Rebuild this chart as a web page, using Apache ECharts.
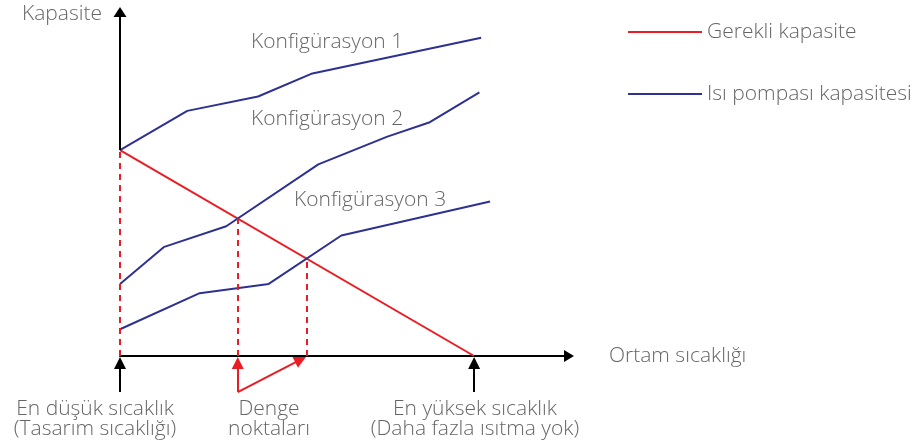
<!DOCTYPE html>
<html>
<head>
<meta charset="UTF-8">
<title>Kapasite</title>
<script type="text/javascript" src="https://cdn.jsdelivr.net/npm/echarts@6/dist/echarts.min.js"></script>
<style>
	body { margin: 0; background: #fff; }
</style>
</head>
<body>
	<div id="div" style="width:920px;height:447px"></div>

	<script type="text/javascript">
		// values (x = ortam sicakligi, y = kapasite, arbitrary units)
		var legendNames = [ 'Gerekli kapasite', 'Isı pompası kapasitesi' ];
		var configNames = [ 'Konfigürasyon 1', 'Konfigürasyon 2', 'Konfigürasyon 3' ];
		var required = [ [ 0, 100 ], [ 100, 0 ] ];
		var config1 = [ [ 0, 100 ], [ 19, 119 ], [ 39, 126 ], [ 54, 137 ], [ 102, 154.5 ] ];
		var config2 = [ [ 0, 35 ], [ 12.5, 53 ], [ 30, 63 ], [ 56, 93 ], [ 75.5, 106.5 ], [ 87.5, 113.5 ], [ 101.5, 128 ] ];
		var config3 = [ [ 0, 13 ], [ 22.5, 30.5 ], [ 42, 35 ], [ 62.5, 58.5 ], [ 104.5, 75 ] ];
		var designPoint = [ 0, 100 ];
		var balancePoints = [ [ 33.25, 66.75 ], [ 52.7, 47.3 ] ];
		var maxTempX = 100;
		var arrowTail = -17.5, arrowTip = -3.4;

		var red = '#ec1c24', blue = '#2e3192', txt = '#666';
		var font = 'Open Sans';
		var fs = 21;

		var mychart = echarts.init(document.getElementById('div'));

		function seg(a, b) {
			return [ { coord : a }, { coord : b } ];
		}

		var dashes = [ seg([ designPoint[0], 0 ], designPoint) ];
		balancePoints.forEach(function(p) {
			dashes.push(seg([ p[0], 0 ], p));
		});

		var hidden = { show : false };
		var option = {
			animation : false,
			textStyle : { fontFamily : font },
			grid : { left : 120, right : 351, top : 12, bottom : 49.8 },
			legend : {
				orient : 'vertical',
				left : 623,
				top : 15,
				icon : 'rect',
				itemWidth : 74,
				itemHeight : 2,
				itemGap : 38,
				data : legendNames,
				textStyle : { fontSize : fs, color : txt, lineHeight : 24, fontFamily : font, fontWeight : 300 }
			},
			xAxis : {
				type : 'value',
				min : 0,
				max : 126.8,
				name : 'Ortam sıcaklığı',
				nameLocation : 'end',
				nameGap : 40,
				nameTextStyle : { fontSize : fs, color : txt, fontWeight : 300, verticalAlign : 'middle', padding : [ 0, 0, 8, 0 ] },
				axisLine : { onZero : true, lineStyle : { color : '#000', width : 2 }, symbol : [ 'none', 'triangle' ], symbolSize : [ 12, 10 ] },
				axisTick : hidden, axisLabel : hidden, splitLine : hidden
			},
			yAxis : {
				type : 'value',
				min : -20,
				max : 167,
				axisLine : hidden, axisTick : hidden, axisLabel : hidden, splitLine : hidden
			},
			series : [ {
				name : legendNames[0],
				type : 'line',
				data : required,
				symbol : 'none',
				color : red,
				lineStyle : { width : 2, color : red },
				z : 3
			}, {
				name : legendNames[1],
				type : 'line',
				data : config1,
				symbol : 'none',
				color : blue,
				lineStyle : { width : 2, color : blue }
			}, {
				name : legendNames[1],
				type : 'line',
				data : config2,
				symbol : 'none',
				color : blue,
				lineStyle : { width : 2, color : blue }
			}, {
				name : legendNames[1],
				type : 'line',
				data : config3,
				symbol : 'none',
				color : blue,
				lineStyle : { width : 2, color : blue }
			}, {
				// y axis, only above the design point
				name : 'yaxis',
				type : 'line',
				data : [],
				clip : false,
				markLine : {
					silent : true,
					symbol : [ 'none', 'triangle' ],
					symbolSize : [ 13, 10 ],
					label : hidden,
					lineStyle : { color : '#000', width : 2, type : 'solid' },
					data : [ seg(designPoint, [ 0, 167 ]) ]
				}
			}, {
				name : 'dashes',
				type : 'line',
				data : [],
				clip : false,
				markLine : {
					silent : true,
					symbol : 'none',
					label : hidden,
					lineStyle : { color : red, width : 2, type : [ 6, 5 ] },
					data : dashes
				}
			}, {
				name : 'blackArrows',
				type : 'line',
				data : [],
				clip : false,
				markLine : {
					silent : true,
					symbol : [ 'none', 'triangle' ],
					symbolSize : [ 12, 12 ],
					label : hidden,
					lineStyle : { color : '#000', width : 2, type : 'solid' },
					data : [ seg([ designPoint[0], arrowTail ], [ designPoint[0], arrowTip ]),
							seg([ maxTempX, arrowTail ], [ maxTempX, arrowTip ]) ]
				}
			}, {
				name : 'redArrows',
				type : 'line',
				data : [],
				clip : false,
				markLine : {
					silent : true,
					symbol : [ 'none', 'triangle' ],
					symbolSize : [ 12, 12 ],
					label : hidden,
					lineStyle : { color : red, width : 2, type : 'solid' },
					data : [ seg([ balancePoints[0][0], arrowTail ], [ balancePoints[0][0], arrowTip ]),
							seg([ balancePoints[0][0], arrowTail ], [ balancePoints[1][0] - 1.7, -1.8 ]) ]
				}
			} ],
			graphic : [
				{ type : 'text', x : 22, y : 14, style : { text : 'Kapasite', fontSize : fs, fill : txt, fontFamily : font, fontWeight : 300, verticalAlign : 'middle' } },
				{ type : 'text', x : 251, y : 42, style : { text : configNames[0], fontSize : fs, fill : txt, fontFamily : font, fontWeight : 300, verticalAlign : 'middle' } },
				{ type : 'text', x : 251, y : 119, style : { text : configNames[1], fontSize : fs, fill : txt, fontFamily : font, fontWeight : 300, verticalAlign : 'middle' } },
				{ type : 'text', x : 294, y : 200, style : { text : configNames[2], fontSize : fs, fill : txt, fontFamily : font, fontWeight : 300, verticalAlign : 'middle' } },
				{ type : 'text', x : 95, y : 419, style : { text : 'En düşük sıcaklık\n(Tasarım sıcaklığı)', fontSize : fs, lineHeight : 20, fill : txt, fontFamily : font, fontWeight : 300, align : 'center', verticalAlign : 'middle' } },
				{ type : 'text', x : 269, y : 419, style : { text : 'Denge\nnoktaları', fontSize : fs, lineHeight : 20, fill : txt, fontFamily : font, fontWeight : 300, align : 'center', verticalAlign : 'middle' } },
				{ type : 'text', x : 475, y : 419, style : { text : 'En yüksek sıcaklık\n(Daha fazla ısıtma yok)', fontSize : fs, lineHeight : 20, fill : txt, fontFamily : font, fontWeight : 300, align : 'center', verticalAlign : 'middle' } }
			]
		};
		mychart.setOption(option);
	</script>
</body>
</html>
